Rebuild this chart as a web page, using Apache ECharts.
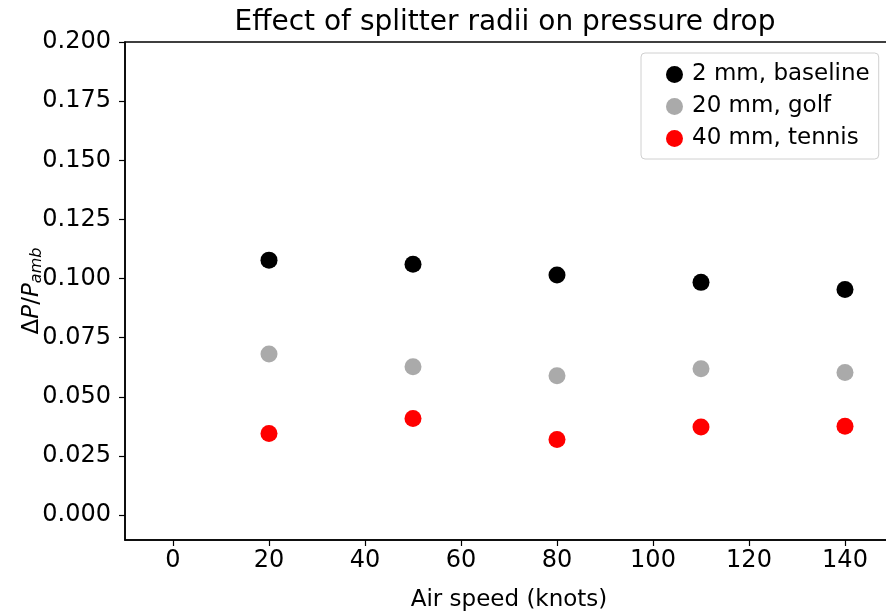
<!DOCTYPE html>
<html>
<head>
<meta charset="utf-8">
<script src="https://cdn.jsdelivr.net/npm/echarts@6/dist/echarts.min.js"></script>
<style>html,body{margin:0;padding:0;background:#fff;}#c{width:886px;height:613px;}</style>
</head>
<body>
<div id="c"></div>
<script>
const airSpeed = [20, 50, 80, 110, 140];
const baseline2mm = [0.1078, 0.1061, 0.1015, 0.0984, 0.0954];
const golf20mm = [0.0681, 0.0627, 0.0589, 0.0619, 0.0603];
const tennis40mm = [0.0345, 0.0409, 0.0320, 0.0373, 0.0376];
const seriesNames = ['2 mm, baseline', '20 mm, golf', '40 mm, tennis'];
const xTicks = [0, 20, 40, 60, 80, 100, 120, 140];
const yTicks = [0, 0.025, 0.05, 0.075, 0.1, 0.125, 0.15, 0.175, 0.2];

const FONT = 'DejaVu Sans';
const pair = (ys) => airSpeed.map((x, i) => [x, ys[i]]);

const chart = echarts.init(document.getElementById('c'), null, {renderer: 'canvas'});
chart.setOption({
  backgroundColor: '#fff',
  animation: false,
  title: {
    text: 'Effect of splitter radii on pressure drop',
    left: 500, top: 4, textAlign: 'center',
    textStyle: {fontFamily: FONT, fontSize: 28, fontWeight: 'normal', color: '#000'}
  },
  grid: {left: 125, top: 42, right: -7, bottom: 73, outerBoundsMode: 'none', containLabel: false,
         show: true, borderColor: '#000', borderWidth: 1.5, backgroundColor: 'transparent'},
  legend: {
    orient: 'vertical', left: 641, top: 53,
    data: seriesNames,
    icon: 'circle', itemWidth: 17, itemHeight: 17, itemGap: 9,
    padding: [10, 9, 9, 25],
    borderColor: '#d0d0d0', borderWidth: 1, borderRadius: 4, backgroundColor: '#fff',
    textStyle: {fontFamily: FONT, fontSize: 23, color: '#000', padding: [0, 0, 0, 4]}
  },
  xAxis: {
    type: 'value', min: -10, max: 150,
    name: 'Air speed (knots)', nameLocation: 'middle', nameGap: 49, nameMoveOverlap: false,
    nameTextStyle: {fontFamily: FONT, fontSize: 23, color: '#000'},
    axisLine: {show: true, onZero: false, lineStyle: {color: '#000', width: 1.5}},
    axisTick: {show: true, customValues: xTicks, length: 6, lineStyle: {color: '#000', width: 1.2}},
    axisLabel: {customValues: xTicks, fontFamily: FONT, fontSize: 24, color: '#000', margin: 9, formatter: v => String(v)},
    splitLine: {show: false}
  },
  yAxis: {
    type: 'value', min: -0.0105, max: 0.2,
    name: '{d|Δ}{i|P}{d|/}{i|P}{s|amb}', nameLocation: 'middle', nameGap: 80, nameRotate: 90, nameMoveOverlap: false,
    nameTextStyle: {
      fontFamily: FONT, fontSize: 23, color: '#000',
      rich: {
        d: {fontFamily: FONT, fontSize: 23, color: '#000'},
        i: {fontFamily: FONT, fontSize: 23, fontStyle: 'italic', color: '#000'},
        s: {fontFamily: FONT, fontSize: 16, fontStyle: 'italic', color: '#000', verticalAlign: 'bottom', padding: [9, 0, 0, 0]}
      }
    },
    axisLine: {show: true, onZero: false, lineStyle: {color: '#000', width: 1.5}},
    axisTick: {show: true, customValues: yTicks, length: 6, lineStyle: {color: '#000', width: 1.2}},
    axisLabel: {customValues: yTicks, fontFamily: FONT, fontSize: 24, color: '#000', margin: 14, formatter: v => v.toFixed(3)},
    splitLine: {show: false}
  },
  series: [
    {name: seriesNames[0], type: 'scatter', data: pair(baseline2mm), symbolSize: 17, itemStyle: {color: '#000000', opacity: 1}},
    {name: seriesNames[1], type: 'scatter', data: pair(golf20mm), symbolSize: 17, itemStyle: {color: '#aaaaaa', opacity: 1}},
    {name: seriesNames[2], type: 'scatter', data: pair(tennis40mm), symbolSize: 17, itemStyle: {color: '#ff0000', opacity: 1}}
  ]
});
</script>
</body>
</html>
